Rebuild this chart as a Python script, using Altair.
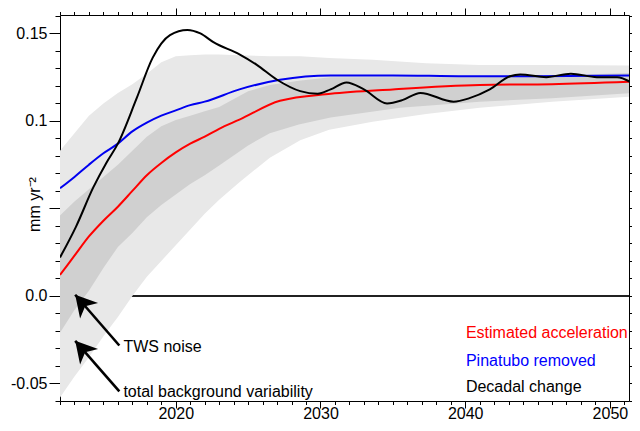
import altair as alt
import pandas as pd

FONT = "Liberation Sans"

# ---- shaded bands -------------------------------------------------------
lt_years = [2012, 2013, 2014, 2015, 2016, 2017, 2018, 2019, 2020, 2021, 2022, 2023,
            2024.4, 2026.5, 2028.6, 2030.6, 2033.6, 2037.3, 2041, 2046, 2051.84]
lt_lo = [-0.058, -0.046, -0.035, -0.023, -0.012, 0.0, 0.011, 0.020, 0.029, 0.038, 0.047,
         0.055, 0.065, 0.079, 0.089, 0.095, 0.0995, 0.104, 0.1075, 0.111, 0.114]
lt_hi = [0.083, 0.093, 0.103, 0.110, 0.116, 0.121, 0.127, 0.1335, 0.137, 0.1375, 0.138,
         0.138, 0.1375, 0.137, 0.137, 0.136, 0.135, 0.133, 0.132, 0.132, 0.1316]

dk_years = [2012, 2013, 2014, 2015, 2016, 2017, 2018, 2019, 2020, 2021, 2022, 2023,
            2025, 2026.5, 2028.5, 2030.7, 2035.5, 2041, 2046, 2051.84]
dk_lo = [-0.021, -0.008, 0.003, 0.016, 0.028, 0.036, 0.045, 0.052, 0.058, 0.064, 0.069,
         0.0745, 0.086, 0.093, 0.098, 0.102, 0.1075, 0.111, 0.113, 0.116]
dk_hi = [0.046, 0.054, 0.061, 0.068, 0.075, 0.083, 0.091, 0.097, 0.1005, 0.103, 0.1055,
         0.108, 0.117, 0.1205, 0.123, 0.125, 0.125, 0.125, 0.126, 0.1275]

# ---- lines ----------------------------------------------------------------
red_years = [2012, 2013, 2014, 2015, 2016, 2017, 2018, 2019, 2020, 2021, 2022, 2023,
             2024.4, 2027.2, 2030.7, 2035, 2041, 2046, 2051.84]
red_vals = [0.012, 0.023, 0.034, 0.043, 0.051, 0.060, 0.069, 0.076, 0.082, 0.087, 0.091,
            0.0955, 0.1007, 0.1115, 0.1155, 0.118, 0.1205, 0.121, 0.1225]

blue_years = [2012, 2013, 2014, 2015, 2016, 2017, 2018, 2019, 2020, 2021, 2022, 2024.4,
              2027.2, 2030.7, 2035, 2040, 2045, 2051.84]
blue_vals = [0.0615, 0.068, 0.075, 0.0815, 0.087, 0.094, 0.099, 0.103, 0.106, 0.109, 0.111,
             0.118, 0.1235, 0.126, 0.126, 0.1255, 0.1255, 0.126]

black_years = [2012, 2013.1, 2014.3, 2015.2, 2016, 2017.3, 2018.4, 2019.6, 2020.8, 2021.7,
               2022.6, 2024.4, 2025.6, 2027, 2028.6, 2029.8, 2030.7, 2031.8, 2033, 2034.6,
               2035.7, 2036.9, 2039.2, 2040.3, 2041.7, 2043.1, 2043.8, 2045.6, 2047.3,
               2049.1, 2050.5, 2051.84]
black_vals = [0.022, 0.0395, 0.062, 0.076, 0.087, 0.113, 0.136, 0.149, 0.152, 0.150,
              0.145, 0.138, 0.132, 0.1235, 0.117, 0.1155, 0.118, 0.122, 0.118, 0.110,
              0.112, 0.116, 0.111, 0.113, 0.118, 0.1255, 0.1265, 0.125, 0.127,
              0.125, 0.125, 0.120]

# ---- axes ----------------------------------------------------------------
# (the page must fit in 624 px, so the right end is trimmed slightly)
x_domain = [2012, 2051.32]
y_domain = [-0.06, 0.1605]
x_ticks = list(range(2012, 2052))
y_ticks = [round(i * 0.01, 2) for i in range(-6, 17)]
y_tick_labels = {0.15: "0.15", 0.1: "0.1", 0.0: "0.0", -0.05: "-0.05"}

# ---- annotations --------------------------------------------------------
legend_text = ["Estimated acceleration", "Pinatubo removed", "Decadal change"]
legend_colors = ["#ff0000", "#0000ff", "#000000"]
legend_x = [2040.05, 2040.05, 2040.05]
legend_y = [-0.0212, -0.0372, -0.0520]

note_text = ["TWS noise", "total background variability"]
note_x = [2016.38, 2016.38]
note_y = [-0.0292, -0.0551]
arrow_tail_x = [2016.1, 2016.1]
arrow_tail_y = [-0.0283, -0.0545]
arrow_tip_x = [2013.05, 2013.05]
arrow_tip_y = [0.0007, -0.0256]

# ---------------------------------------------------------------------------
xs = alt.Scale(domain=x_domain, nice=False, zero=False)
ys = alt.Scale(domain=y_domain, nice=False, zero=False)

lt_df = pd.DataFrame({"year": lt_years, "lo": lt_lo, "hi": lt_hi})
dk_df = pd.DataFrame({"year": dk_years, "lo": dk_lo, "hi": dk_hi})
red_df = pd.DataFrame({"year": red_years, "v": red_vals})
blue_df = pd.DataFrame({"year": blue_years, "v": blue_vals})
black_df = pd.DataFrame({"year": black_years, "v": black_vals})
leg_df = pd.DataFrame({"x": legend_x, "y": legend_y, "t": legend_text, "c": legend_colors})
note_df = pd.DataFrame({"x": note_x, "y": note_y, "t": note_text})
arr_df = pd.DataFrame({"x": arrow_tail_x, "y": arrow_tail_y,
                       "x2": arrow_tip_x, "y2": arrow_tip_y})

major_y_test = "abs(round(datum.value*100)) % 5 === 0"
label_expr_y = " : ".join(
    f"abs(datum.value - ({v})) < 1e-6 ? '{t}'" for v, t in y_tick_labels.items()
) + " : ''"

common_axis = dict(labelFont=FONT, labelFontSize=16, labelColor="black",
                   tickColor="black", tickWidth=1, domainColor="black",
                   domainWidth=1, grid=False, labelOverlap=False, labelFlush=False)

ax_bottom = alt.Axis(orient="bottom", values=x_ticks, title=None,
                     labelExpr="datum.value % 10 === 0 ? '' + datum.value : ''",
                     tickSize={"condition": {"test": "datum.value % 10 === 0", "value": 7},
                               "value": 3.5},
                     labelPadding=-3, **common_axis)
ax_left = alt.Axis(orient="left", values=y_ticks, title="mm yr⁻²",
                   labelExpr=label_expr_y,
                   tickSize={"condition": {"test": major_y_test, "value": 11}, "value": 5},
                   labelPadding=2, titleFont=FONT, titleFontSize=16,
                   titleFontWeight="normal", titleColor="black", titleX=-18, titleY=189,
                   **common_axis)
ax_top = alt.Axis(orient="top", values=x_ticks, title=None, labels=False,
                  tickSize={"condition": {"test": "datum.value % 10 === 0", "value": 7},
                            "value": 3.5},
                  **common_axis)
ax_right = alt.Axis(orient="right", values=y_ticks, title=None, labels=False,
                    tickSize=3, **common_axis)

zero = alt.Chart(lt_df).mark_rule(color="#222222", strokeWidth=1).encode(
    y=alt.datum(0, scale=ys, axis=None))

light = alt.Chart(lt_df).mark_area(color="#e8e8e8", opacity=1, clip=True).encode(
    x=alt.X("year:Q", scale=xs, axis=ax_bottom),
    y=alt.Y("lo:Q", scale=ys, axis=ax_left),
    y2="hi:Q")

dark = alt.Chart(dk_df).mark_area(color="#d0d0d0", opacity=1, clip=True).encode(
    x=alt.X("year:Q", scale=xs, axis=ax_top),
    y=alt.Y("lo:Q", scale=ys, axis=ax_right),
    y2="hi:Q")

def line(df, color):
    return alt.Chart(df).mark_line(color=color, strokeWidth=2, interpolate="monotone",
                                   clip=True).encode(
        x=alt.X("year:Q", scale=xs, axis=None),
        y=alt.Y("v:Q", scale=ys, axis=None))

blue = line(blue_df, "#0000f0")
red = line(red_df, "#ff0000")
black = line(black_df, "#000000")

arrows = alt.Chart(arr_df).mark_rule(color="black", strokeWidth=2.6).encode(
    x=alt.X("x:Q", scale=xs, axis=None), y=alt.Y("y:Q", scale=ys, axis=None),
    x2="x2:Q", y2="y2:Q")

heads = alt.Chart(arr_df).mark_point(
    shape="M0,0 L0.9,1.6 L0,1.15 L-0.9,1.6 Z", filled=True, color="black",
    opacity=1, size=700, angle=319, strokeWidth=0).encode(
    x=alt.X("x2:Q", scale=xs, axis=None), y=alt.Y("y2:Q", scale=ys, axis=None))

notes = alt.Chart(note_df).mark_text(align="left", baseline="middle", font=FONT,
                                     fontSize=16, color="black").encode(
    x=alt.X("x:Q", scale=xs, axis=None), y=alt.Y("y:Q", scale=ys, axis=None), text="t:N")

legend = alt.Chart(leg_df).mark_text(align="left", baseline="middle", font=FONT,
                                     fontSize=16).encode(
    x=alt.X("x:Q", scale=xs, axis=None), y=alt.Y("y:Q", scale=ys, axis=None), text="t:N",
    color=alt.Color("c:N", scale=None))

chart = alt.layer(zero, light, dark, blue, red, black, arrows, heads, notes, legend).resolve_axis(
    x="independent", y="independent"
).properties(
    width=569, height=386,
    autosize=alt.AutoSizeParams(type="none"),
    padding={"left": 52, "top": 7, "right": 3, "bottom": 22},
    background="white",
).configure_view(stroke=None)

chart.save("out.html", embed_options={"renderer": "svg", "actions": False})
